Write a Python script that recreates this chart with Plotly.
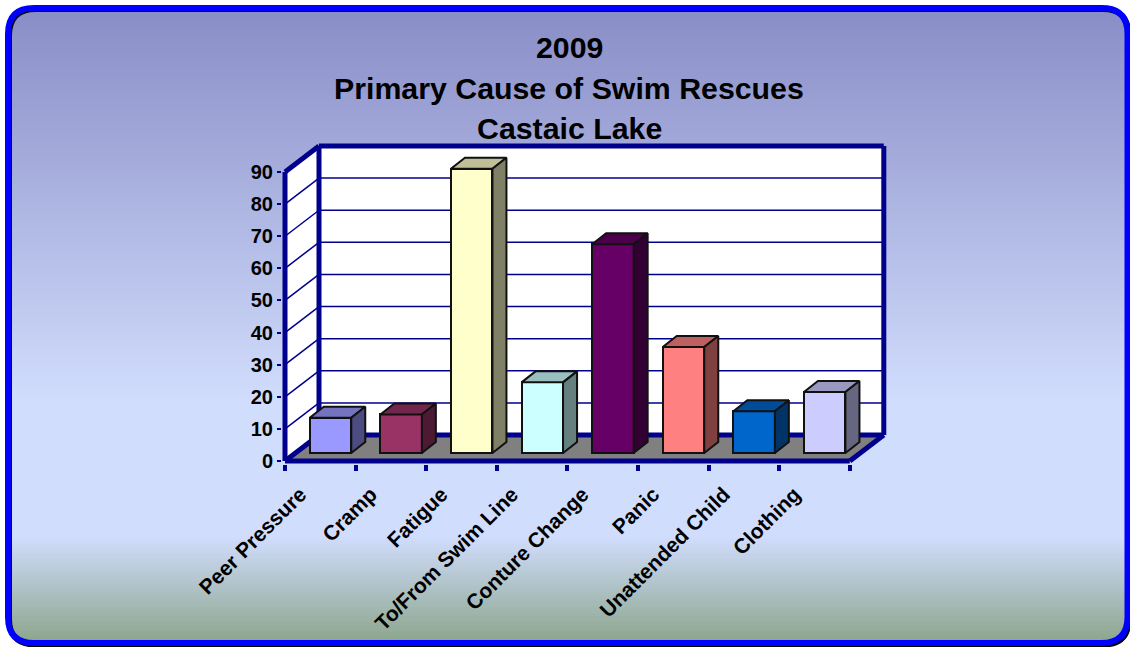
import plotly.graph_objects as go

# ---- data ----
TITLE_LINES = ["2009", "Primary Cause of Swim Rescues", "Castaic Lake"]
CATEGORIES = ["Peer Pressure", "Cramp", "Fatigue", "To/From Swim Line",
              "Conture Change", "Panic", "Unattended Child", "Clothing"]
VALUES = [11, 12, 88.5, 22, 65, 33, 13, 19]
FRONT_COLORS = ["#9999FF", "#993366", "#FFFFCC", "#CCFFFF",
                "#660066", "#FF8080", "#0066CC", "#CCCCFF"]
Y_TICKS = [0, 10, 20, 30, 40, 50, 60, 70, 80, 90]

# ---- page geometry ----
W, H = 1130, 647
ORIGIN_X, ORIGIN_Y = 285.0, 461.0       # pixel of (0, 0)
X_LEFT, X_RIGHT = 282.0, 889.0          # plot area slightly larger than the box
Y_BOTTOM, Y_TOP = 464.0, 142.0
PX_PER_CAT = 70.6
PX_PER_VAL = 3.211
WALL_DX = 34 / PX_PER_CAT      # depth of the box
WALL_DY = 26 / PX_PER_VAL
BAR_DX = 14 / PX_PER_CAT       # depth of a bar
BAR_DY = 11 / PX_PER_VAL
BAR_SHIFT = 10.2 / PX_PER_CAT  # bars stand inside the floor
BAR_BASE = 8 / PX_PER_VAL
BAR_WIDTH = 41.5 / PX_PER_CAT
NAVY = "#00008C"
N = len(CATEGORIES)


def fx(px):
    return px / W


def fy(px):
    return 1 - px / H


def shade(hex_color, k):
    r, g, b = (int(hex_color[i:i + 2], 16) for i in (1, 3, 5))
    return f"rgb({round(r * k)},{round(g * k)},{round(b * k)})"


def lerp(a, b, t):
    return tuple(round(a[i] + (b[i] - a[i]) * t) for i in range(3))


def bg_color(y):
    top, mid, bot = (137, 141, 198), (209, 221, 253), (139, 165, 140)
    if y < 400:
        return lerp(top, mid, max(0, y - 8) / 392)
    if y < 535:
        return mid
    return lerp(mid, bot, min(1, (y - 535) / 106))


def round_rect(l, t, r, b, rad):
    return (f"M{fx(l + rad)},{fy(t)} L{fx(r - rad)},{fy(t)} Q{fx(r)},{fy(t)} {fx(r)},{fy(t + rad)} "
            f"L{fx(r)},{fy(b - rad)} Q{fx(r)},{fy(b)} {fx(r - rad)},{fy(b)} "
            f"L{fx(l + rad)},{fy(b)} Q{fx(l)},{fy(b)} {fx(l)},{fy(b - rad)} "
            f"L{fx(l)},{fy(t + rad)} Q{fx(l)},{fy(t)} {fx(l + rad)},{fy(t)} Z")


shapes = []

# background gradient
for y in range(4, 646, 3):
    c = bg_color(y)
    shapes.append(dict(type="rect", xref="paper", yref="paper", layer="below",
                       x0=fx(5), x1=fx(1129), y0=fy(y), y1=fy(y + 4),
                       fillcolor=f"rgb{c}", line_width=0))
# mask outside the rounded frame, then frame
outer = "M0,0 L1,0 L1,1 L0,1 Z "
shapes.append(dict(type="path", xref="paper", yref="paper", layer="below",
                   path=outer + round_rect(8, 8, 1127.5, 643, 26), fillcolor="#FFFFFF",
                   fillrule="evenodd", line_width=0))
shapes.append(dict(type="path", xref="paper", yref="paper", layer="below",
                   path=round_rect(9.5, 9.5, 1129, 645, 26), line=dict(color="#000000", width=5)))
shapes.append(dict(type="path", xref="paper", yref="paper", layer="below",
                   path=round_rect(8, 8, 1127.5, 643, 26), line=dict(color="#0000FF", width=6)))


def poly(points, **kw):
    path = "M" + " L".join(f"{x},{y}" for x, y in points) + " Z"
    shapes.append(dict(type="path", xref="x", yref="y", layer="below", path=path, **kw))


def seg(x0, y0, x1, y1, color=NAVY, width=1.5):
    shapes.append(dict(type="line", xref="x", yref="y", layer="below",
                       x0=x0, y0=y0, x1=x1, y1=y1, line=dict(color=color, width=width)))


top_val = Y_TICKS[-1]
# white walls and grey floor
poly([(WALL_DX, WALL_DY), (N + WALL_DX, WALL_DY), (N + WALL_DX, top_val + WALL_DY), (WALL_DX, top_val + WALL_DY)],
     fillcolor="#FFFFFF", line_width=0)
poly([(0, 0), (WALL_DX, WALL_DY), (WALL_DX, top_val + WALL_DY), (0, top_val)],
     fillcolor="#FFFFFF", line_width=0)
poly([(0, 0), (N, 0), (N + WALL_DX, WALL_DY), (WALL_DX, WALL_DY)],
     fillcolor="#808080", line_width=0)
# gridlines
for v in Y_TICKS[1:-1]:
    seg(WALL_DX, v + WALL_DY, N + WALL_DX, v + WALL_DY)
    seg(0, v, WALL_DX, v + WALL_DY)
# heavy box edges
for a in [(0, 0, 0, top_val), (0, top_val, WALL_DX, top_val + WALL_DY),
          (WALL_DX, WALL_DY, WALL_DX, top_val + WALL_DY),
          (WALL_DX, top_val + WALL_DY, N + WALL_DX, top_val + WALL_DY),
          (N + WALL_DX, WALL_DY, N + WALL_DX, top_val + WALL_DY),
          (WALL_DX, WALL_DY, N + WALL_DX, WALL_DY),
          (0, 0, WALL_DX, WALL_DY), (0, 0, N, 0), (N, 0, N + WALL_DX, WALL_DY)]:
    seg(*a, width=5)

fig = go.Figure()
centers = [i + 0.5 + BAR_SHIFT for i in range(N)]
EDGE = dict(color="#111111", width=2)

# front faces
fig.add_trace(go.Bar(x=centers, y=VALUES, base=BAR_BASE, width=BAR_WIDTH,
                     marker=dict(color=FRONT_COLORS, line=EDGE), showlegend=False,
                     hovertext=CATEGORIES, hoverinfo="text+y"))
# top and side faces
for c, v, col in zip(centers, VALUES, FRONT_COLORS):
    l, r = c - BAR_WIDTH / 2, c + BAR_WIDTH / 2
    t = BAR_BASE + v
    fig.add_trace(go.Scatter(
        x=[l, r, r + BAR_DX, l + BAR_DX, l], y=[t, t, t + BAR_DY, t + BAR_DY, t],
        mode="lines", fill="toself", fillcolor=shade(col, 0.75), line=EDGE,
        hoverinfo="skip", showlegend=False))
    fig.add_trace(go.Scatter(
        x=[r, r + BAR_DX, r + BAR_DX, r, r],
        y=[BAR_BASE, BAR_BASE + BAR_DY, t + BAR_DY, t, BAR_BASE],
        mode="lines", fill="toself", fillcolor=shade(col, 0.5), line=EDGE,
        hoverinfo="skip", showlegend=False))

annotations = [dict(text=f"<b>{line}</b>", xref="paper", yref="paper", x=fx(569), y=fy(y),
                    xanchor="center", yanchor="middle", showarrow=False,
                    font=dict(family="Liberation Sans", size=30.3, color="#000000"))
               for line, y in zip(TITLE_LINES, [48, 89, 128])]

fig.update_layout(
    width=W, height=H, autosize=False, margin=dict(l=0, r=0, t=0, b=0),
    paper_bgcolor="#FFFFFF", plot_bgcolor="rgba(0,0,0,0)", showlegend=False,
    bargap=0, shapes=shapes, annotations=annotations,
    font=dict(family="Liberation Sans", color="#000000"),
    xaxis=dict(domain=[fx(X_LEFT), fx(X_RIGHT)],
               range=[(X_LEFT - ORIGIN_X) / PX_PER_CAT, (X_RIGHT - ORIGIN_X) / PX_PER_CAT],
               automargin=False, showgrid=False, zeroline=False, showline=False,
               tickmode="array", tickvals=[i + 0.5 for i in range(N)],
               ticktext=[f"<b>{c}</b>" for c in CATEGORIES], ticks="",
               tickangle=-45, ticklabelstandoff=13, ticklabelshift=-20,
               tickfont=dict(size=21, family="Liberation Sans", color="#000000"),
               minor=dict(tickmode="array", tickvals=list(range(N + 1)), ticks="outside",
                          ticklen=6, tickwidth=4, tickcolor=NAVY, showgrid=False)),
    yaxis=dict(domain=[fy(Y_BOTTOM), fy(Y_TOP)],
               range=[(ORIGIN_Y - Y_BOTTOM) / PX_PER_VAL, (ORIGIN_Y - Y_TOP) / PX_PER_VAL],
               automargin=False, showgrid=False, zeroline=False, showline=False,
               tickmode="array", tickvals=Y_TICKS, ticktext=[f"<b>{v}</b>" for v in Y_TICKS],
               ticks="outside", ticklen=4, tickwidth=2, tickcolor=NAVY,
               tickfont=dict(size=20, family="Liberation Sans", color="#000000")),
)

fig.write_html("out.html", config=dict(displayModeBar=False),
               post_script="document.body.style.margin='0';document.documentElement.style.overflow='hidden';")
